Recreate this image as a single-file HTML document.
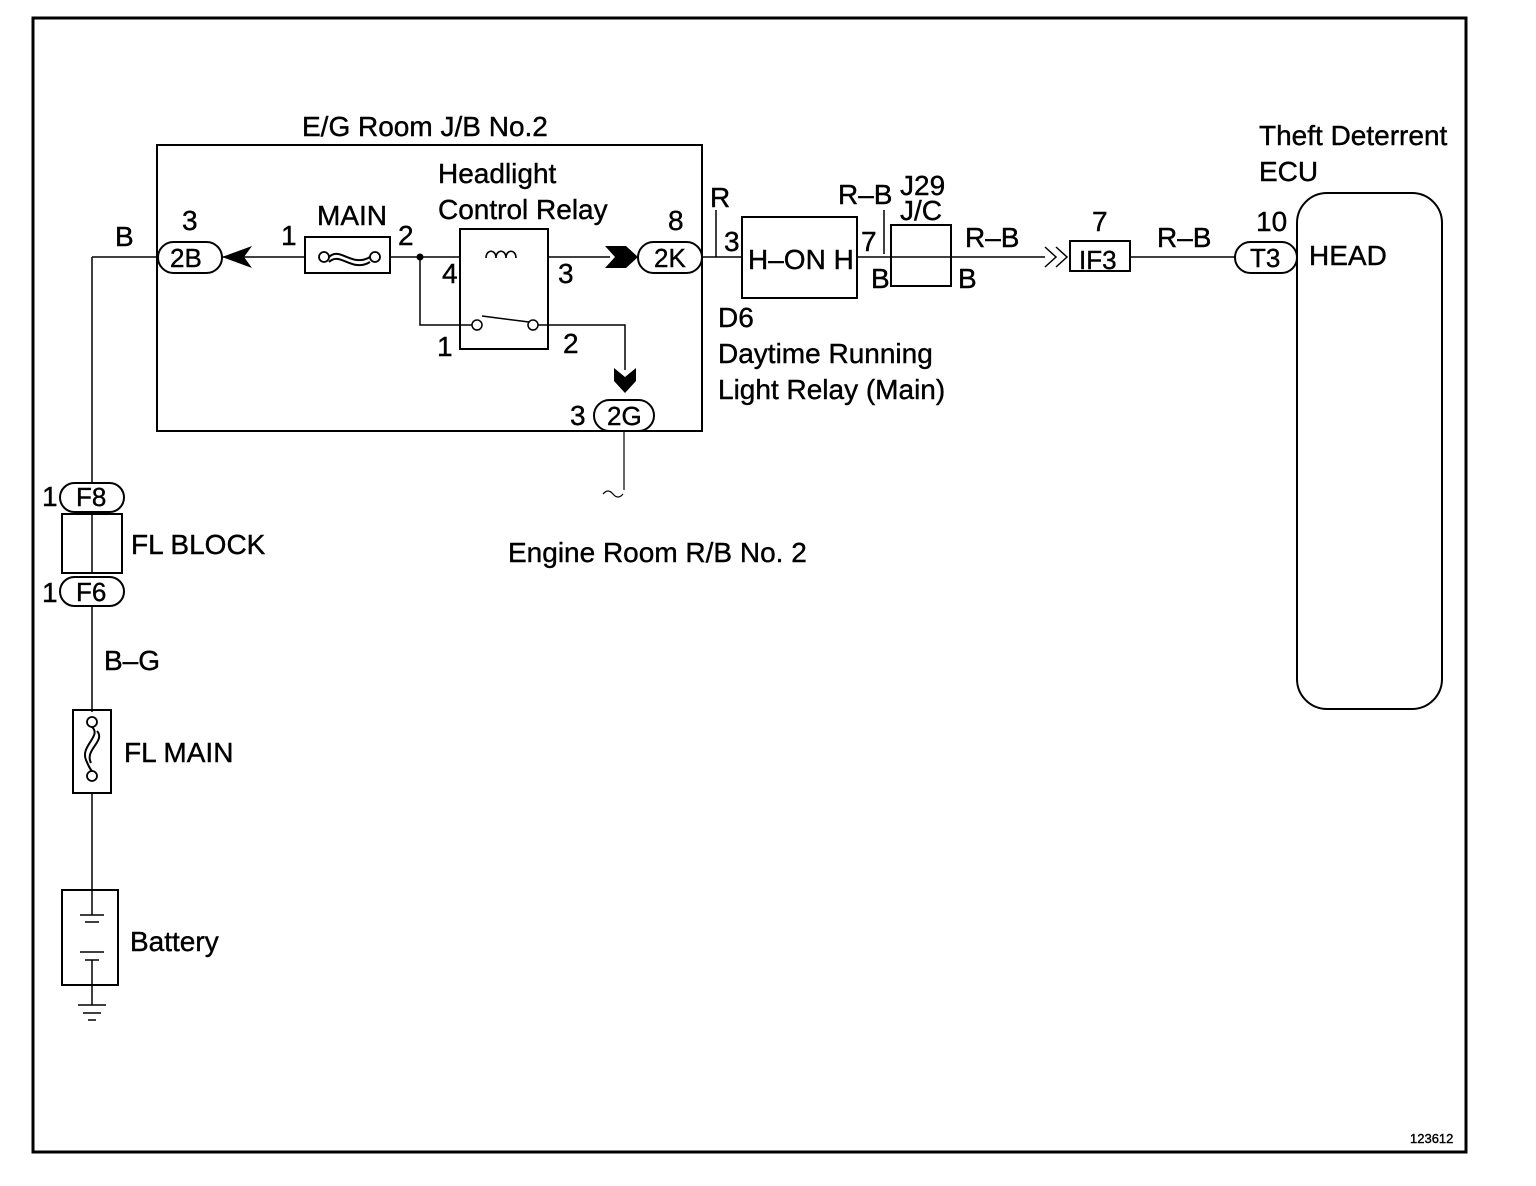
<!DOCTYPE html>
<html><head><meta charset="utf-8"><style>
html,body{margin:0;padding:0;background:#fff}
svg{display:block}
text{font-family:"Liberation Sans",Arial,sans-serif;fill:#000;stroke:#000;stroke-width:0.4}
</style></head><body>
<svg width="1536" height="1186" viewBox="0 0 1536 1186" xmlns="http://www.w3.org/2000/svg">
<g fill="none" stroke="#000">
<rect x="33" y="18" width="1433" height="1134" stroke-width="3"/>
<rect x="157" y="145" width="545" height="286" stroke-width="2"/>
<path d="M92 257 H158 M222 257 H305 M390 257 H460 M548 257 H610 M702 257 H742 M857 257 H1045 M1130 257 H1235" stroke-width="1.5"/>
<path d="M92 257 V483 M92 606 V712 M92 793 V890 M92 985 V1005" stroke-width="1.5"/>
<rect x="158" y="242" width="64" height="31" rx="15.5" stroke-width="2"/>
<rect x="638" y="242" width="64" height="31" rx="15.5" stroke-width="2"/>
<rect x="594" y="400" width="60" height="31" rx="15.5" stroke-width="2"/>
<rect x="1235" y="242" width="62" height="31" rx="15.5" stroke-width="2"/>
<rect x="60" y="483" width="64" height="29" rx="14.5" stroke-width="2"/>
<rect x="60" y="577" width="64" height="29" rx="14.5" stroke-width="2"/>
<rect x="305" y="237" width="85" height="36" stroke-width="2"/>
<circle cx="324" cy="257" r="5" stroke-width="1.8"/><circle cx="375" cy="257" r="5" stroke-width="1.8"/>
<path d="M329 257 C340 246 352 268 370 257 M329 262 C340 251 352 273 370 262" stroke-width="2"/>
<rect x="460" y="229" width="88" height="120" stroke-width="2"/>
<path d="M420 257 V325 H472 M538 325 H625 V370 M482 316 L529 322" stroke-width="1.5"/>
<path d="M486 258 c0-9 10-9 10 0 c0-9 10-9 10 0 c0-9 10-9 10 0" stroke-width="1.6"/>
<circle cx="477" cy="325" r="5" stroke-width="1.5"/><circle cx="533" cy="325" r="5" stroke-width="1.5"/>
<path d="M624 431 V490 M603 494 q5 -6 10 0 t10 0" stroke-width="1.2"/>
<rect x="742" y="217" width="115" height="81" stroke-width="2"/>
<path d="M716 210 V257 M884 210 V254" stroke-width="1.5"/>
<rect x="891" y="225" width="60" height="61" stroke-width="2"/>
<path d="M1045 247 L1056 257 L1045 267 M1056 247 L1067 257 L1056 267" stroke-width="1.5"/>
<rect x="1070" y="241" width="60" height="30" stroke-width="2"/>
<rect x="1297" y="193" width="145" height="516" rx="30" stroke-width="2"/>
<rect x="62" y="514" width="60" height="59" stroke-width="2"/>
<path d="M92 514 V573" stroke-width="1.5"/>
<rect x="73" y="710" width="38" height="83" stroke-width="2"/>
<circle cx="92" cy="722" r="5" stroke-width="1.8"/><circle cx="92" cy="776" r="5" stroke-width="1.8"/>
<path d="M92 727 C102 736 80 746 86 760 C89 767 90 769 92 771 M97 731 C106 741 84 750 91 763" stroke-width="2"/>
<rect x="62" y="890" width="56" height="95" stroke-width="2"/>
<path d="M80 915 H104 M85 922 H99 M80 952 H104 M85 960 H99 M92 890 V915 M92 960 V985 M78 1005 H106 M83 1013 H101 M88 1020 H96" stroke-width="1.5"/>
</g>
<g fill="#000">
<path d="M222 257 L252 246 L244 257 L252 268 Z"/>
<path d="M605 246 L626 246 L638 257 L626 268 L605 268 L615 257 Z"/>
<path d="M614 368 L625 377 L636 368 L636 381 L625 393 L614 381 Z"/>
<circle cx="420" cy="257" r="3.5"/>
</g>
<g font-size="28">
<text x="302" y="136">E/G Room J/B No.2</text>
<text x="438" y="183">Headlight</text>
<text x="438" y="219">Control Relay</text>
<text x="317" y="225">MAIN</text>
<text x="182" y="230">3</text>
<text x="668" y="230">8</text>
<text x="281" y="245">1</text>
<text x="398" y="245">2</text>
<text x="442" y="283">4</text>
<text x="558" y="283">3</text>
<text x="437" y="356">1</text>
<text x="563" y="353">2</text>
<text x="570" y="425">3</text>
<text x="115" y="246">B</text>
<text x="710" y="207">R</text>
<text x="724" y="251">3</text>
<text x="748" y="269">H–ON H</text>
<text x="861" y="251">7</text>
<text x="838" y="204">R–B</text>
<text x="900" y="195">J29</text>
<text x="900" y="220">J/C</text>
<text x="871" y="288">B</text>
<text x="958" y="288">B</text>
<text x="965" y="247">R–B</text>
<text x="1092" y="231">7</text>
<text x="1157" y="247">R–B</text>
<text x="1256" y="231">10</text>
<text x="1259" y="145">Theft Deterrent</text>
<text x="1259" y="181">ECU</text>
<text x="1309" y="265">HEAD</text>
<text x="718" y="327">D6</text>
<text x="718" y="363">Daytime Running</text>
<text x="718" y="399">Light Relay (Main)</text>
<text x="508" y="562">Engine Room R/B No. 2</text>
<text x="42" y="506">1</text>
<text x="42" y="602">1</text>
<text x="131" y="554">FL BLOCK</text>
<text x="104" y="670">B–G</text>
<text x="124" y="762">FL MAIN</text>
<text x="130" y="951">Battery</text>
</g>
<g font-size="26">
<text x="170" y="267">2B</text>
<text x="654" y="267">2K</text>
<text x="607" y="425">2G</text>
<text x="1250" y="267">T3</text>
<text x="1079" y="269">IF3</text>
<text x="76" y="506">F8</text>
<text x="76" y="601">F6</text>
</g>
<text x="1410" y="1143" font-size="13">123612</text>
</svg>
</body></html>
